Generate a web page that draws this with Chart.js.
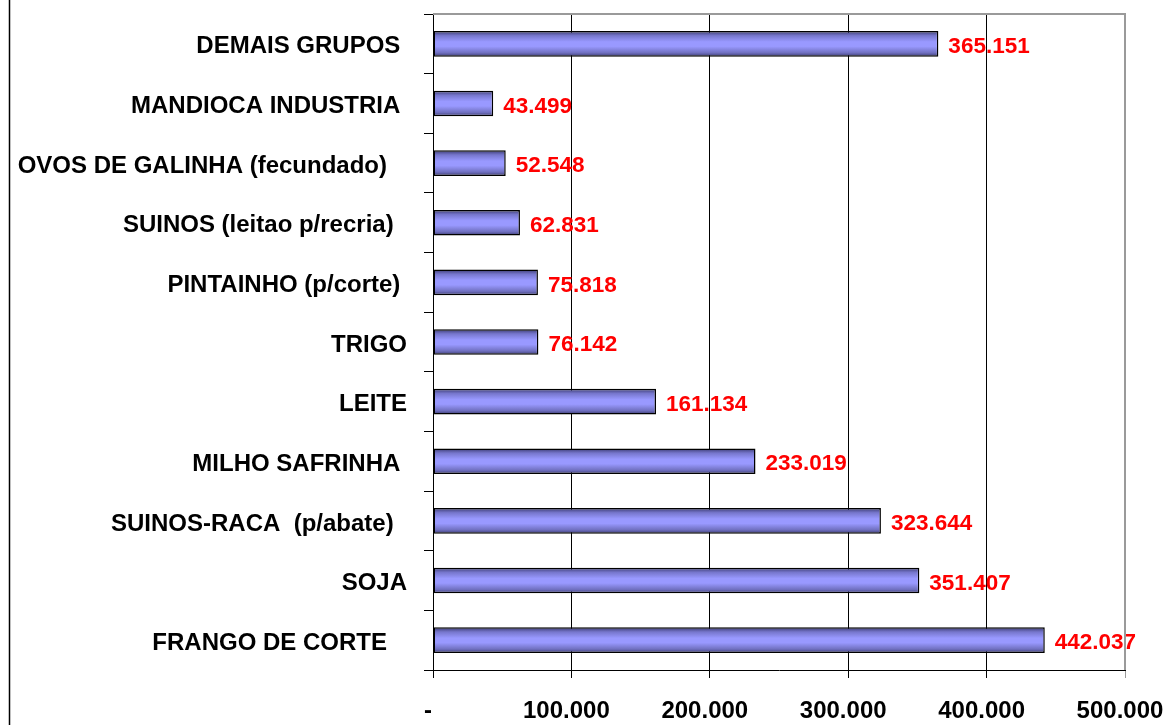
<!DOCTYPE html>
<html>
<head>
<meta charset="utf-8">
<script src="https://cdn.jsdelivr.net/npm/chart.js@4"></script>
<style>
  html, body { margin: 0; padding: 0; background: #fff; }
  canvas { display: block; }
</style>
</head>
<body>
<canvas id="barChart" width="1168" height="725"></canvas>
<script>
// categories top to bottom (trailing spaces as in the source sheet)
const categories = [
    'DEMAIS GRUPOS ',
    'MANDIOCA INDUSTRIA ',
    'OVOS DE GALINHA (fecundado)   ',
    'SUINOS (leitao p/recria)  ',
    'PINTAINHO (p/corte) ',
    'TRIGO',
    'LEITE',
    'MILHO SAFRINHA ',
    'SUINOS-RACA  (p/abate)  ',
    'SOJA',
    'FRANGO DE CORTE   '
];
const values = [365151, 43499, 52548, 62831, 75818, 76142, 161134, 233019, 323644, 351407, 442037];
const tickValues = [0, 100000, 200000, 300000, 400000, 500000];

const fmt = v => v === 0 ? '-' : String(v).replace(/\B(?=(\d{3})+(?!\d))/g, '.');
const FONT = 'Liberation Sans, Arial, sans-serif';

function barFill(c) {
    const chart = c.chart;
    const ys = chart.scales && chart.scales.y;
    if (!ys || c.type !== 'data' || !ys.height) return '#9999ff';
    const yc = ys.getPixelForValue(c.dataIndex);
    const h = ys.height / categories.length * 0.43;
    const g = chart.ctx.createLinearGradient(0, yc - h / 2, 0, yc + h / 2);
    g.addColorStop(0, '#3a3a70');
    g.addColorStop(0.18, '#7676cc');
    g.addColorStop(0.42, '#9999ff');
    g.addColorStop(0.6, '#9999ff');
    g.addColorStop(0.85, '#7070c0');
    g.addColorStop(1, '#3a3a70');
    return g;
}

// frame pieces and red value labels
const extras = {
    id: 'extras',
    beforeDraw(chart) {
        const ctx = chart.ctx;
        ctx.save();
        ctx.strokeStyle = '#000';
        ctx.lineWidth = 1.5;
        ctx.beginPath();
        ctx.moveTo(9.5, 0);
        ctx.lineTo(9.5, chart.height);
        ctx.stroke();
        ctx.restore();
    },
    afterDraw(chart) {
        const ctx = chart.ctx;
        const a = chart.chartArea;
        ctx.save();
        ctx.strokeStyle = '#9a9a9a';
        ctx.lineWidth = 2;
        ctx.beginPath();
        ctx.moveTo(a.left, a.top);
        ctx.lineTo(a.right, a.top);
        ctx.lineTo(a.right, a.bottom);
        ctx.stroke();
        ctx.restore();
    },
    afterDatasetsDraw(chart) {
        const ctx = chart.ctx;
        const meta = chart.getDatasetMeta(0);
        ctx.save();
        ctx.fillStyle = '#ff0000';
        ctx.font = 'bold 22.5px ' + FONT;
        ctx.textAlign = 'left';
        ctx.textBaseline = 'middle';
        meta.data.forEach((el, i) => {
            ctx.fillText(fmt(values[i]), el.x + 10, el.y + 3);
        });
        ctx.restore();
    }
};

new Chart(document.getElementById('barChart'), {
    type: 'bar',
    data: {
        labels: categories,
        datasets: [{
            data: values,
            backgroundColor: barFill,
            borderColor: '#000',
            borderWidth: 1.5,
            borderSkipped: false,
            barPercentage: 0.43,
            categoryPercentage: 1
        }]
    },
    options: {
        indexAxis: 'y',
        responsive: false,
        animation: false,
        layout: {
            padding: { top: 14, right: 43, left: 0, bottom: 0 }
        },
        scales: {
            x: {
                min: 0,
                max: 500000,
                afterBuildTicks: s => { s.ticks = tickValues.map(v => ({ value: v })); },
                afterFit: s => { s.height = 55; s.paddingLeft = 0; s.paddingRight = 0; },
                grid: {
                    color: c => c.tick && c.tick.value === 500000 ? '#9a9a9a' : '#000',
                    lineWidth: 1,
                    tickLength: 8
                },
                border: { color: '#000', width: 1 },
                ticks: {
                    color: '#000',
                    font: { family: FONT, size: 24, weight: 'bold' },
                    padding: 19,
                    labelOffset: -5,
                    maxRotation: 0,
                    callback: v => fmt(v)
                }
            },
            y: {
                afterFit: s => { s.width = 433; s.paddingTop = 0; s.paddingBottom = 0; },
                grid: {
                    drawOnChartArea: false,
                    color: '#000',
                    tickLength: 9
                },
                border: { color: '#000', width: 1 },
                ticks: {
                    color: '#000',
                    font: { family: FONT, size: 24, weight: 'bold' },
                    padding: 17,
                    labelOffset: 3,
                    autoSkip: false
                }
            }
        },
        plugins: {
            legend: { display: false },
            tooltip: { enabled: false }
        }
    },
    plugins: [extras]
});
</script>
</body>
</html>
